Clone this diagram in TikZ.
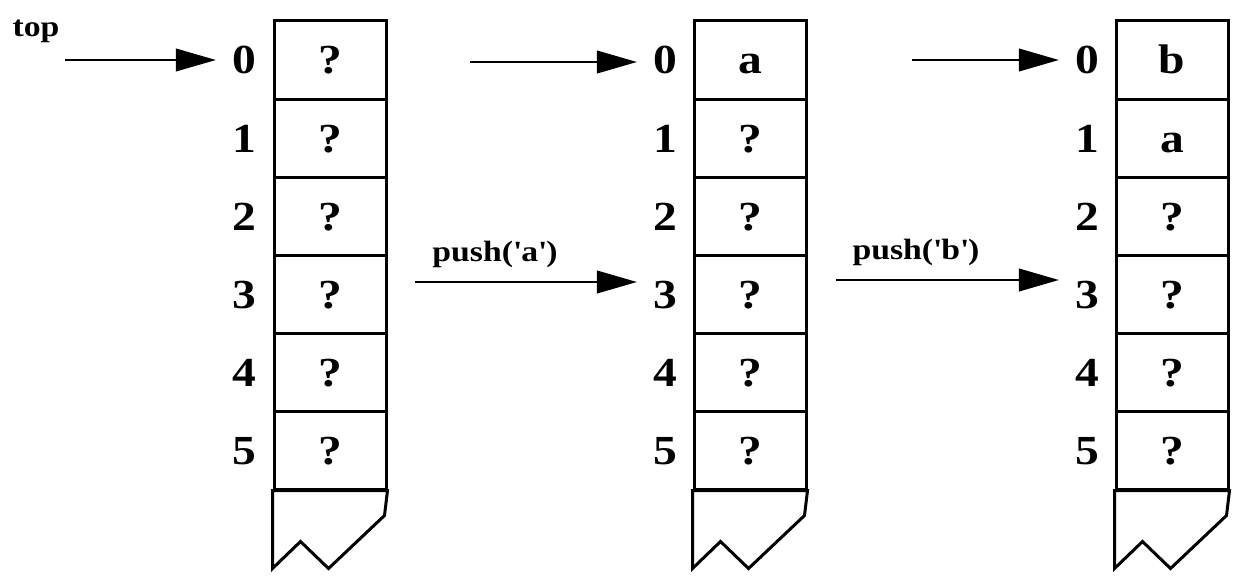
\documentclass[tikz,border=0pt]{standalone}
\usepackage{fontspec}
\setmainfont[FakeStretch=1.15]{Liberation Serif}
\usetikzlibrary{arrows.meta}
\begin{document}
\begin{tikzpicture}[x=0.75pt,y=-0.75pt,
  cell/.style={draw,line width=2.25pt,minimum width=84pt,minimum height=58.5pt,inner sep=0pt,text height=21pt,text depth=0pt,font=\fontsize{31}{32}\selectfont\bfseries},
  idx/.style={inner sep=0pt,text height=21pt,text depth=0pt,font=\fontsize{31}{32}\selectfont\bfseries},
  lbl/.style={inner sep=0pt,font=\fontsize{22}{24}\selectfont\bfseries},
  ptr/.style={line width=1.5pt,-{Triangle[length=30pt,width=17pt]},shorten >=12pt},
  tailline/.style={line width=2.25pt,line join=miter}]
\useasboundingbox (0,0) rectangle (1248,585);

% column 1
\foreach \r/\t in {0/?,1/?,2/?,3/?,4/?,5/?}{
  \node[cell] (a\r) at (330,60+78*\r) {\t};
  \node[idx] (i1-\r) at (244,60+78*\r) {\r};
}
% column 2
\foreach \r/\t in {0/a,1/?,2/?,3/?,4/?,5/?}{
  \node[cell] (b\r) at (750,60+78*\r) {\t};
  \node[idx] (i2-\r) at (665,60+78*\r) {\r};
}
% column 3
\foreach \r/\t in {0/b,1/a,2/?,3/?,4/?,5/?}{
  \node[cell] (c\r) at (1172,60+78*\r) {\t};
  \node[idx] (i3-\r) at (1087,60+78*\r) {\r};
}

% tails
\foreach \n in {a,b,c}{
  \draw[tailline] (\n5.south west) -- ++(0,78) -- ++(28,-27) -- ++(28,27) -- ++(56,-53) -- (\n5.south east) -- cycle;
}

% labels
\node[lbl] (top) at (36,31) {top};
\node[lbl] (pa) at (495,254) {push(\textquotesingle a\textquotesingle)};
\node[lbl] (pb) at (916,252) {push(\textquotesingle b\textquotesingle)};

% arrows
\coordinate (t1) at (65,60);
\coordinate (t2) at (470,62);
\coordinate (t3) at (912,60);
\coordinate (p1) at (415,282);
\coordinate (p2) at (836,280);
\draw[ptr] (t1) -- (i1-0.west |- t1);
\draw[ptr] (t2) -- (i2-0.west |- t2);
\draw[ptr] (t3) -- (i3-0.west |- t3);
\draw[ptr] (p1) -- (i2-3.west |- p1);
\draw[ptr] (p2) -- (i3-3.west |- p2);
\end{tikzpicture}
\end{document}
